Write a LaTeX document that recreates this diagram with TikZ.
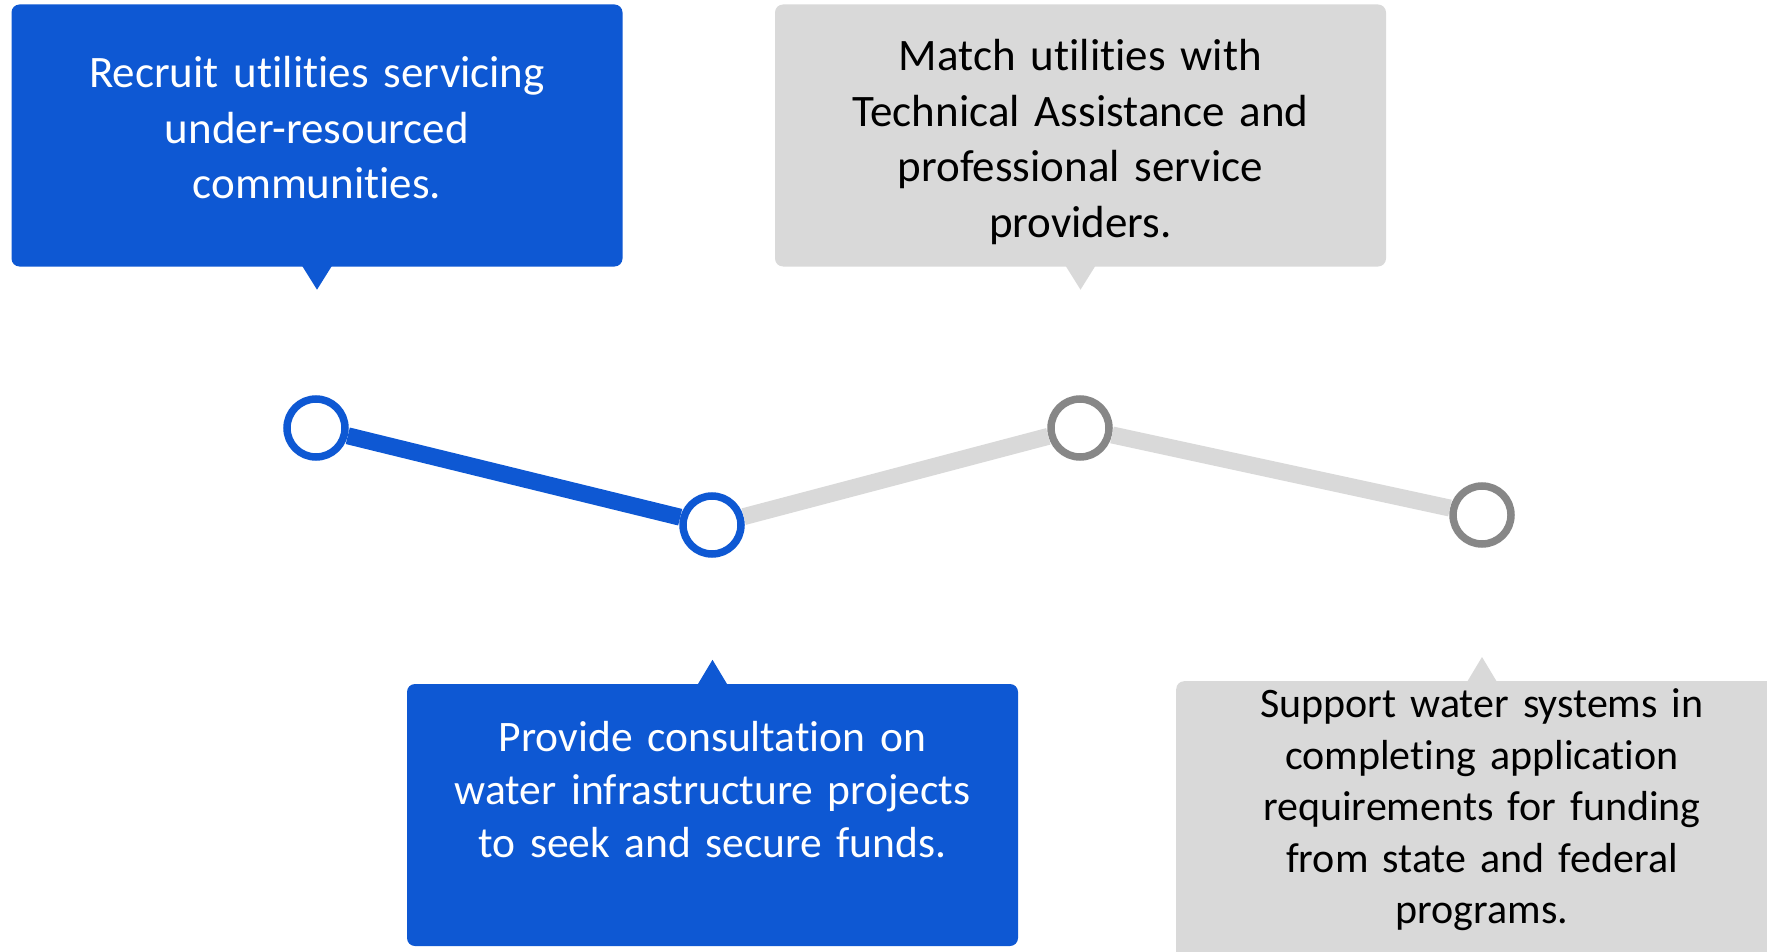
\documentclass[tikz,border=0pt]{standalone}
\usepackage{fontspec}
\setmainfont{Carlito}[RawFeature={-liga;-dlig;-clig;-calt;-rlig}]
\usetikzlibrary{calc}
\definecolor{cblue}{HTML}{0E58D3}
\definecolor{cgray}{HTML}{D9D9D9}
\definecolor{cring}{HTML}{878787}
\tikzset{
  box/.style={rectangle, rounded corners=8pt, minimum width=611pt, minimum height=262pt, inner sep=0pt},
  bluebox/.style={box, fill=cblue},
  graybox/.style={box, fill=cgray},
  btext/.style={text width=560pt, align=center, inner sep=0pt, text=white},
  gtext/.style={text width=560pt, align=center, inner sep=0pt, text=black},
  ring/.style={circle, draw, fill=white, line width=7.5pt, minimum size=58pt, inner sep=0pt},
  bluering/.style={ring, draw=cblue},
  grayring/.style={ring, draw=cring},
  bluelink/.style={draw=cblue, line width=17pt},
  graylink/.style={draw=cgray, line width=17pt},
}
\begin{document}
\begin{tikzpicture}[x=1pt,y=-1pt]
\useasboundingbox (0,0) rectangle (1767,952);
\clip (0,0) rectangle (1767,952);
% boxes
\node[bluebox] (b1) at (317,135.5) {};
\node[graybox] (b2) at (1080.5,135.5) {};
\node[bluebox] (b3) at (712.5,815) {};
\node[graybox, minimum height=340pt, anchor=north west] (b4) at (1176,681) {};
% pointers
\coordinate (p1) at ($(b1.south)+(0,23)$);
\fill[cblue] ($(b1.south)+(-15,-1)$) -- (p1) -- ($(b1.south)+(15,-1)$) -- cycle;
\coordinate (p2) at ($(b2.south)+(0,23)$);
\fill[cgray] ($(b2.south)+(-15,-1)$) -- (p2) -- ($(b2.south)+(15,-1)$) -- cycle;
\coordinate (p3) at ($(b3.north)+(0,-24)$);
\fill[cblue] ($(b3.north)+(-15,1)$) -- (p3) -- ($(b3.north)+(15,1)$) -- cycle;
\coordinate (b4top) at (1482,681);
\coordinate (p4) at ($(b4top)+(0,-24)$);
\fill[cgray] ($(b4top)+(-15,1)$) -- (p4) -- ($(b4top)+(15,1)$) -- cycle;
% texts
\node[btext, font=\fontsize{45}{55.5}\selectfont] (t1) at (317,128)
  {Recruit utilities servicing\\under-resourced\\communities.};
\node[gtext, font=\fontsize{45}{55.5}\selectfont] (t2) at (1080.5,142)
  {Match utilities with\\Technical Assistance and\\professional service\\providers.};
\node[btext, font=\fontsize{43.5}{53}\selectfont] (t3) at (712.5,790)
  {Provide consultation on\\water infrastructure projects\\to seek and secure funds.};
\node[gtext, font=\fontsize{42}{51.5}\selectfont] (t4) at (1482,810)
  {Support water systems in\\completing application\\requirements for funding\\from state and federal\\programs.};
% timeline
\node[bluering] (c1) at (316,428) {};
\node[bluering] (c2) at (712,525) {};
\node[grayring] (c3) at (1080,428) {};
\node[grayring] (c4) at (1482,515) {};
\draw[bluelink] (c1) -- (c2);
\draw[graylink] (c2) -- (c3);
\draw[graylink] (c3) -- (c4);
\end{tikzpicture}
\end{document}
